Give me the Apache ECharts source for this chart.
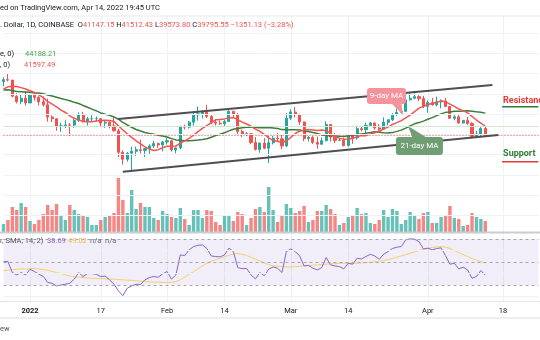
<!DOCTYPE html>
<html>
<head>
<meta charset="utf-8">
<script src="https://cdn.jsdelivr.net/npm/echarts@6/dist/echarts.min.js"></script>
<style>
  html, body { margin: 0; padding: 0; background: #ffffff; }
  #chart { width: 540px; height: 340px; }
</style>
</head>
<body>
<div id="chart"></div>
<script>
// BTC/USD daily, Coinbase — 26 Dec 2021 to 14 Apr 2022, axis runs on to 26 Apr.
const firstDay = Date.UTC(2021, 11, 26);
const dayCount = 122;
const dates = Array.from({ length: dayCount }, (_, i) =>
  new Date(firstDay + i * 86400000).toISOString().slice(0, 10));

const tickDates = ['2022-01-01', '2022-01-17', '2022-02-01', '2022-02-14',
                   '2022-03-01', '2022-03-14', '2022-04-01', '2022-04-18'];
const tickTexts = ['2022', '17', 'Feb', '14', 'Mar', '14', 'Apr', '18'];

const open = [50430,50800,50720,47540,46470,47130,46210,47730,47300,46430,
  45830,43430,43080,41550,41680,41850,41830,42740,43920,42560,
  43080,43090,43100,42220,42360,41670,40690,36450,35070,36270,
  36660,36960,36820,37190,37710,38170,37900,38490,38730,36900,
  37320,41570,41410,42410,43840,44050,44390,43530,42400,42200,
  42070,42550,44560,43890,40550,40000,40120,38400,37020,38270,
  37250,38330,39220,39120,37700,43190,44420,43920,42450,39150,
  39400,38420,38060,38740,41950,39440,38800,38820,37800,39670,
  39290,41120,40920,41770,42250,41260,41000,42370,42890,43960,
  44340,44540,46820,47130,47450,47070,45530,46290,45820,46410,
  46600,45500,43170,43450,42250,42760,42160,39530,40080,41147.15];

const high = [51280,52090,50720,48130,47900,48560,47950,47990,47570,47510,
  47070,43750,43130,42300,42780,42250,43100,44330,44450,43450,
  43800,43500,43200,42700,42600,43500,41100,36850,36500,37550,
  37550,38950,37250,38030,38700,38380,38720,39260,38850,37400,
  41700,41920,42650,44500,45500,44800,45850,43950,43000,42750,
  42850,44750,44580,44200,40950,40450,40150,39450,38400,39250,
  39700,39700,40300,39850,44200,44950,45400,44100,42500,39650,
  39650,39550,39400,42550,42000,40250,39350,39300,39900,39900,
  41700,41450,42300,42400,42300,42000,43350,42900,44200,45100,
  44800,46900,48190,48100,47700,47600,46700,47200,47450,46900,
  47200,45500,43900,43950,42800,43420,42420,40700,41550,41512.43];

const low = [49480,50450,47320,46100,45930,45680,46210,46650,45700,45500,
  42500,42430,40700,40500,41250,39650,41300,42450,42330,41750,
  42600,42600,41550,41280,41150,40550,35500,34020,34600,32950,
  35700,36250,35510,36150,37300,37350,36630,38000,36600,36250,
  37050,40950,41150,41700,42700,43150,43200,42000,41750,41880,
  41580,42450,43330,40100,39450,39650,38050,36800,36350,37050,
  34320,38000,38600,37050,37450,42850,43350,41850,38650,38600,
  38100,37150,37900,38600,38600,38250,38670,37600,37600,38130,
  38950,40550,40150,41500,40920,40500,40900,41750,42600,43600,
  44100,44400,46680,46950,46550,45200,44250,45650,45550,45150,
  45400,43100,42750,42120,42120,41880,39200,39250,39560,39573.80];

const close = [50800,50720,47540,46470,47130,46210,47730,47300,46430,45830,
  43430,43080,41550,41680,41850,41830,42740,43920,42560,43080,
  43090,43100,42220,42360,41670,40690,36450,35070,36270,36660,
  36960,36820,37190,37710,38170,37900,38490,38730,36900,37320,
  41570,41410,42410,43840,44050,44390,43530,42400,42200,42070,
  42550,44560,43890,40550,40000,40120,38400,37020,38270,37250,
  38330,39220,39120,37700,43190,44420,43920,42450,39150,39400,
  38420,38060,38740,41950,39440,38800,38820,37800,39670,39290,
  41120,40920,41770,42250,41260,41000,42370,42890,43960,44340,
  44540,46820,47130,47450,47070,45530,46290,45820,46410,46600,
  45500,43170,43450,42250,42760,42160,39530,40080,41146.68,39795.55];

const volume = [6000,9000,18750,16500,21750,18750,8250,6000,9000,13500,
  20250,16500,21000,12750,9000,20250,16500,13500,12750,11250,
  5250,5250,9000,11250,12750,14250,40500,24000,14250,31500,
  17250,21750,18750,18750,10500,9000,15750,13500,11250,10500,
  18000,9750,5250,16500,16500,10500,16500,15750,7500,5250,
  12750,12000,8250,15000,13500,5250,10500,17250,18750,15000,
  33750,16500,7500,12000,21000,18000,14250,15750,19500,7500,
  9000,15750,15750,20250,17250,13500,5250,6750,11250,12750,
  18000,13500,14250,6750,6000,9000,16500,11250,17250,15750,
  6000,9000,15000,12750,9750,14250,15000,6750,6750,11250,
  12000,19500,10500,9750,4500,5250,14250,11250,9750,8250];

// 9-day and 21-day moving averages of the close
const ma9 = [48960,49390,49480,49440,49230,48970,48620,48280,47790,47260,
  46450,45960,45410,44800,44320,43660,43160,42880,42520,42480,
  42480,42650,42710,42770,42750,42520,41690,40860,40100,39390,
  38710,38110,37530,37090,36810,36970,37350,37630,37650,37690,
  38220,38690,39210,39840,40520,41180,41710,42320,42870,42920,
  43050,43290,43290,42900,42420,42040,41590,41020,40600,40010,
  39310,38800,38640,38380,38720,39390,40160,40620,40830,40950,
  40860,40750,40860,40720,40170,39600,39200,39050,39080,39170,
  39510,39760,39740,40050,40320,40560,41070,41430,41950,42310,
  42710,43270,43810,44500,45170,45530,45900,46110,46340,46570,
  46420,45980,45540,45000,44690,44240,43540,42830,42230,41597.49];

const ma21 = [48780,48790,48640,48450,48430,48380,48300,48170,48160,48030,
  47770,47560,47340,47090,46860,46620,46320,46100,45710,45360,
  44990,44630,44230,43980,43750,43440,42980,42380,41850,41390,
  40960,40650,40370,40190,40020,39830,39670,39480,39150,38900,
  38830,38750,38710,38790,38870,39000,39140,39420,39760,40030,
  40310,40680,41010,41170,41280,41380,41400,41330,41310,41320,
  41370,41260,41150,40930,40900,40910,40890,40840,40680,40550,
  40380,40160,39890,39790,39740,39680,39620,39590,39720,39770,
  39950,40080,40200,40350,40520,40410,40310,40270,40340,40580,
  40830,41230,41660,42080,42320,42610,42970,43300,43710,44040,
  44340,44430,44550,44580,44600,44640,44570,44460,44380,44188.21];

// RSI(14) and its 14-period SMA
const rsi = [50.5,50.5,40.9,38.8,40.9,38.8,43.8,41.8,39.5,37.5,
  32.2,31.5,29.2,30.0,30.7,31.5,35.1,40.9,37.4,40.0,
  40.0,39.4,37.4,37.8,34.5,30.7,24.8,20.7,27.2,29.2,
  30.7,30.4,34.5,36.5,37.4,36.8,39.7,41.8,35.1,38.8,
  56.3,55.8,60.8,63.6,64.8,65.1,62.0,55.4,54.9,54.6,
  56.3,62.2,59.3,45.2,44.3,44.5,38.8,35.4,40.9,38.1,
  43.8,45.8,44.7,40.9,59.3,61.5,59.3,55.4,46.7,47.2,
  44.7,43.2,45.2,54.0,47.6,46.7,46.1,44.1,49.0,48.2,
  53.4,52.8,54.9,56.9,55.4,52.5,56.9,59.3,61.9,63.1,
  63.6,69.5,70.4,70.1,68.0,61.5,62.2,60.8,61.9,62.5,
  55.7,48.2,49.0,44.1,45.6,43.2,35.9,37.4,42.6,38.69];

const rsiMa = [42.6,42.9,43.5,43.8,44.1,44.1,44.4,44.4,44.1,43.5,
  42.9,41.9,40.9,40.0,38.8,38.0,37.1,36.8,36.5,36.2,
  35.9,35.6,35.6,35.4,35.1,35.1,34.8,34.5,34.2,34.0,
  33.7,33.4,33.1,32.8,32.5,32.5,32.2,32.2,32.2,33.1,
  34.5,36.8,39.4,41.7,44.1,46.7,49.0,50.8,52.2,53.4,
  54.6,56.0,57.2,57.5,56.9,55.8,54.3,52.5,51.1,49.3,
  47.9,46.7,46.4,46.1,45.8,45.8,46.1,46.4,46.7,47.0,
  47.3,47.6,47.9,48.2,48.5,48.8,48.8,49.0,49.0,49.0,
  49.0,49.3,49.6,49.9,50.5,50.8,51.4,52.2,53.1,54.3,
  55.4,56.6,57.8,58.9,60.1,61.3,62.2,62.8,63.3,63.6,
  63.1,61.9,60.1,58.4,56.6,54.9,53.1,51.7,50.5,49.02];

const priceGridLevels = [24000, 28000, 32000, 36000, 40000, 44000, 48000, 52000, 56000, 60000];
const rsiGridLevels = [20, 40, 60];
const rsiBands = [70, 50, 30];

// hand-drawn channel (day index, price)
const channelUpper = [[25.9, 43030], [110.6, 49750]];
const channelLower = [[26.97, 32610], [111.95, 39870]];
const resistanceLevel = 45460;
const supportLevel = 34590;

const FONT = 'Roboto, "Liberation Sans", sans-serif';
const UP = '#26a69a', DOWN = '#ef5350';
const TEXT = '#131722';
const GRIDLINE = '#edf1f8';

const last = close.length - 1;
const isTick = (idx, val) => tickDates.indexOf(val) >= 0;

const ohlc = close.map((c, i) => [open[i], c, low[i], high[i]]);
const volumeBars = volume.map((v, i) => ({
  value: v,
  itemStyle: { color: close[i] >= open[i] ? 'rgba(38,166,154,0.7)' : 'rgba(239,83,80,0.7)' }
}));

const hiddenMarkLine = (data, lineStyle) => ({
  silent: true, symbol: 'none', animation: false,
  label: { show: false }, lineStyle, data
});

const gridBase = { left: 3.51, right: 1.67, outerBoundsMode: 'none', containLabel: false };

const option = {
  animation: false,
  backgroundColor: '#ffffff',
  grid: [
    Object.assign({ top: 16, height: 216 }, gridBase),
    Object.assign({ top: 152, height: 80 }, gridBase),
    Object.assign({ top: 233, height: 68 }, gridBase)
  ],
  xAxis: [
    { type: 'category', gridIndex: 0, data: dates, boundaryGap: false,
      axisLine: { show: false }, axisTick: { show: false }, axisLabel: { show: false },
      splitLine: { show: true, interval: isTick, lineStyle: { color: GRIDLINE, width: 1 } } },
    { type: 'category', gridIndex: 1, data: dates, boundaryGap: false, show: false },
    { type: 'category', gridIndex: 2, data: dates, boundaryGap: false,
      axisLine: { show: false }, axisTick: { show: false },
      axisLabel: {
        interval: isTick, margin: 6, fontSize: 7.5, color: TEXT, fontFamily: FONT,
        formatter: (v) => {
          const t = tickTexts[tickDates.indexOf(v)];
          return t === '2022' ? '{y|' + t + '}' : t;
        },
        rich: { y: { fontWeight: 'bold', fontSize: 7.5, color: TEXT, fontFamily: FONT } }
      },
      splitLine: { show: true, interval: isTick, lineStyle: { color: GRIDLINE, width: 1 } } },
    { type: 'value', gridIndex: 0, min: 0, max: dayCount - 1, show: false }
  ],
  yAxis: [
    { type: 'value', gridIndex: 0, min: 20697, max: 63385, show: false },
    { type: 'value', gridIndex: 1, min: 0, max: 60000, show: false },
    { type: 'value', gridIndex: 2, min: 16, max: 75.5, show: false }
  ],
  series: [
    { name: 'price grid', type: 'line', xAxisIndex: 0, yAxisIndex: 0, data: [], z: 1, silent: true,
      markLine: hiddenMarkLine(priceGridLevels.map(v => ({ yAxis: v })),
        { color: GRIDLINE, width: 1, type: 'solid' }) },
    { name: 'Volume', type: 'bar', xAxisIndex: 1, yAxisIndex: 1, data: volumeBars,
      barWidth: 3.4, z: 2, silent: true },
    { name: 'price lines', type: 'line', xAxisIndex: 0, yAxisIndex: 0, data: [], z: 2, silent: true,
      markLine: hiddenMarkLine([
        { yAxis: ma9[last], lineStyle: { color: '#cfe7cf', width: 1, type: 'solid' } },
        { yAxis: close[last], lineStyle: { color: DOWN, width: 1, type: [1, 2] } }
      ], {}) },
    { name: 'BTCUSD', type: 'candlestick', xAxisIndex: 0, yAxisIndex: 0, data: ohlc,
      barWidth: 2.6, z: 3,
      itemStyle: { color: UP, color0: DOWN, borderColor: UP, borderColor0: DOWN, borderWidth: 1 } },
    { name: 'MA 21', type: 'line', xAxisIndex: 0, yAxisIndex: 0, data: ma21, symbol: 'none', z: 4,
      lineStyle: { color: '#3c7d3a', width: 1.5 } },
    { name: 'MA 9', type: 'line', xAxisIndex: 0, yAxisIndex: 0, data: ma9, symbol: 'none', z: 4,
      lineStyle: { color: '#f05552', width: 1.5 } },
    { name: 'channel top', type: 'line', xAxisIndex: 3, yAxisIndex: 0, data: channelUpper,
      symbol: 'none', z: 5, lineStyle: { color: '#4f4f4f', width: 2 } },
    { name: 'channel bottom', type: 'line', xAxisIndex: 3, yAxisIndex: 0, data: channelLower,
      symbol: 'none', z: 5, lineStyle: { color: '#4f4f4f', width: 2 } },
    { name: 'resistance', type: 'line', xAxisIndex: 3, yAxisIndex: 0,
      data: [[112.8, resistanceLevel], [dayCount - 1, resistanceLevel]],
      symbol: 'none', z: 5, lineStyle: { color: '#2e7d32', width: 1.5 } },
    { name: 'support', type: 'line', xAxisIndex: 3, yAxisIndex: 0,
      data: [[112.8, supportLevel], [dayCount - 1, supportLevel]],
      symbol: 'none', z: 5, lineStyle: { color: '#e53935', width: 1.5 } },
    { name: 'RSI frame', type: 'line', xAxisIndex: 2, yAxisIndex: 2, data: [], z: 1, silent: true,
      markArea: { silent: true, itemStyle: { color: 'rgba(126,87,194,0.1)' },
        data: [[{ yAxis: rsiBands[2] }, { yAxis: rsiBands[0] }]] },
      markLine: hiddenMarkLine(
        rsiGridLevels.map(v => ({ yAxis: v, lineStyle: { color: GRIDLINE, width: 1, type: 'solid' } }))
          .concat(rsiBands.map(v => ({ yAxis: v, lineStyle: { color: '#a3a6af', width: 1, type: [3, 3] } }))),
        {}) },
    { name: 'RSI MA', type: 'line', xAxisIndex: 2, yAxisIndex: 2, data: rsiMa, symbol: 'none', z: 3,
      lineStyle: { color: '#f3d067', width: 1 } },
    { name: 'RSI', type: 'line', xAxisIndex: 2, yAxisIndex: 2, data: rsi, symbol: 'none', z: 4,
      lineStyle: { color: '#8565c9', width: 1 } }
  ]
};

const chart = echarts.init(document.getElementById('chart'), null, { renderer: 'canvas' });
chart.setOption(option);

// ---- annotations & text overlays ----
const toPx = (pt) => chart.convertToPixel({ xAxisIndex: 3, yAxisIndex: 0 }, pt);

function text(x, y, str, fill, size, weight, extra) {
  return {
    type: 'text', silent: true, z: 50,
    style: Object.assign({
      x, y, text: str, fill, fontSize: size || 7.5, fontFamily: FONT,
      fontWeight: weight || 'normal', align: 'left', verticalAlign: 'middle'
    }, extra || {})
  };
}

function hline(y, color, width) {
  return { type: 'line', silent: true, z: 40,
    shape: { x1: 0, y1: y, x2: 540, y2: y },
    style: { stroke: color, lineWidth: width } };
}

const notes = [
  { label: '9-day MA', center: [86.65, 47575], tip: [90.38, 43820], w: 39, h: 16,
    base: [5, 15], side: 'bottom', fill: '#f4939c' },
  { label: '21-day MA', center: [94.1, 37693], tip: [91.51, 41646], w: 47, h: 18,
    base: [-7, 7], side: 'top', fill: '#6f9d74' }
];

function callout(n) {
  const c = toPx(n.center), t = toPx(n.tip);
  const x0 = c[0] - n.w / 2, y0 = c[1] - n.h / 2;
  const edge = n.side === 'bottom' ? y0 + n.h - 0.5 : y0 + 0.5;
  return [
    { type: 'polygon', silent: true, z: 45,
      shape: { points: [[c[0] + n.base[0], edge], [c[0] + n.base[1], edge], t] },
      style: { fill: n.fill } },
    { type: 'rect', silent: true, z: 45,
      shape: { x: x0, y: y0, width: n.w, height: n.h, r: 3 },
      style: { fill: n.fill } },
    { type: 'text', silent: true, z: 46,
      style: { x: c[0], y: c[1], text: n.label, fill: '#ffffff', fontSize: 8,
        fontFamily: FONT, align: 'center', verticalAlign: 'middle' } }
  ];
}

const fmt = (v) => v.toFixed(2);
const change = close[last] - close[last - 1];
const pct = change / close[last - 1] * 100;
const signed = (v) => (v < 0 ? '\u2212' : '+') + Math.abs(v).toFixed(2);

const resPx = toPx([112.8, resistanceLevel]);
const supPx = toPx([112.8, supportLevel]);

const graphics = [
  hline(16, '#e6e9f0', 1),
  hline(232.5, '#c9ccd3', 2),
  hline(301.5, '#e0e3eb', 1),
  hline(318, '#eeeeee', 2),
  text(0, 8, 'ed on TradingView.com, Apr 14, 2022 19:45 UTC', TEXT, 7.5),
  {
    type: 'text', silent: true, z: 50,
    style: {
      x: 0, y: 25, fill: TEXT, fontSize: 7.5, fontFamily: FONT, verticalAlign: 'middle',
      text: '. Dollar, 1D, COINBASE  O{r|' + fmt(open[last]) + '} H{r|' + fmt(high[last]) +
        '} L{r|' + fmt(low[last]) + '} C{r|' + fmt(close[last]) + '} {r|' + signed(change) +
        ' (' + signed(pct) + '%)}',
      rich: { r: { fill: DOWN, fontSize: 7.5, fontFamily: FONT } }
    }
  },
  text(0, 54, 'e, 0)', TEXT, 7.5),
  text(25, 54, fmt(ma21[last]), '#43a047', 7.5),
  text(0, 65, ', 0)', TEXT, 7.5),
  text(24, 65, fmt(ma9[last]), DOWN, 7.5),
  text(0, 241, 'r, SMA, 14; 2)', '#50535e', 7.5),
  text(47, 241, fmt(rsi[last]), '#8565c9', 7.5),
  text(68, 241, fmt(rsiMa[last]), '#e9c13f', 7.5),
  text(90, 241, 'n/a', '#6a6d78', 7.5),
  text(105, 241, 'n/a', '#6a6d78', 7.5),
  text(0, 329, 'ew', '#50535e', 7.5),
  text(resPx[0] + 1, resPx[1] - 5.7, 'Resistance', '#e53935', 9, 'bold'),
  text(supPx[0] + 1, supPx[1] - 7.7, 'Support', '#2e7d32', 9, 'bold')
].concat(callout(notes[0]), callout(notes[1]));

chart.setOption({ graphic: graphics });
</script>
</body>
</html>
